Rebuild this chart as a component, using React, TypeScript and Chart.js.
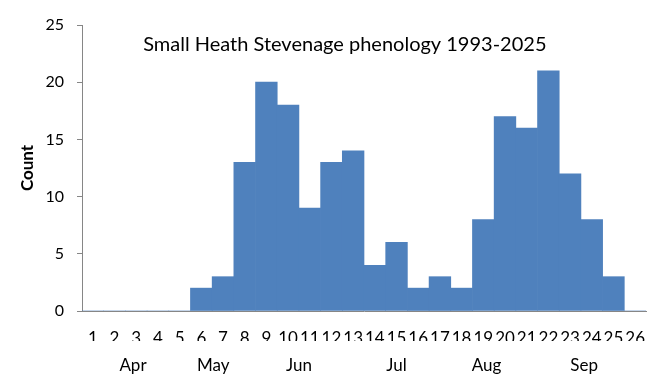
import React, { useEffect, useRef } from "react";
import { Chart, registerables } from "chart.js";

Chart.register(...registerables);

const weeks = ["1","2","3","4","5","6","7","8","9","10","11","12","13","14","15","16","17","18","19","20","21","22","23","24","25","26"];
const counts = [0,0,0,0,0,2,3,13,20,18,9,13,14,4,6,2,3,2,8,17,16,21,12,8,3,0];
const monthLabels = ["Apr","May","Jun","Jul","Aug","Sep"];
const monthWeeks = [2.85, 6.55, 10.5, 15.0, 19.15, 23.65];
const yMax = 25;
const yStep = 5;
const titleText = "Small Heath Stevenage phenology 1993-2025";
const yTitle = "Count";

const FONT = "Lato";
const AXIS = "#868686";
const BAR = "#4F81BD";

const innerTitle = {
  id: "innerTitle",
  afterDraw(chart: any) {
    const { ctx, chartArea } = chart;
    ctx.save();
    ctx.font = `20px ${FONT}`;
    ctx.fillStyle = "#000";
    ctx.textAlign = "center";
    ctx.textBaseline = "middle";
    const x = chartArea.left + (chartArea.right - chartArea.left) * 0.466;
    ctx.fillText(titleText, x, chartArea.top + 20);
    ctx.restore();
  },
};

export default function App() {
  const ref = useRef<HTMLCanvasElement | null>(null);
  useEffect(() => {
    document.body.style.margin = "0";
    const canvas = ref.current;
    if (!canvas) return;
    const chart = new Chart(canvas, {
      type: "bar",
      data: {
        labels: weeks,
        datasets: [
          {
            data: counts,
            backgroundColor: BAR,
            borderWidth: 0,
            barPercentage: 1,
            categoryPercentage: 1,
            xAxisID: "x",
            yAxisID: "y",
          },
        ],
      },
      options: {
        responsive: false,
        animation: false,
        devicePixelRatio: 1,
        layout: { padding: { top: 25, right: 11, left: 0, bottom: 0 } },
        plugins: {
          legend: { display: false },
          tooltip: { enabled: false },
          title: { display: false },
        },
        scales: {
          x: {
            type: "category",
            position: "bottom",
            offset: true,
            grid: { display: false, drawTicks: true, tickLength: 17 },
            border: { display: true, color: AXIS, width: 1 },
            ticks: {
              autoSkip: false,
              maxRotation: 0,
              minRotation: 0,
              padding: 0,
              color: "#000",
              font: { family: FONT, size: 17 },
            },
            afterFit: (s: any) => {
              s.height = 30;
              s.paddingLeft = 0;
              s.paddingRight = 0;
            },
          },
          months: {
            type: "linear",
            position: "bottom",
            offset: false,
            min: 0.5,
            max: 26.5,
            grid: { display: false, drawTicks: true, tickLength: 14, offset: false },
            border: { display: false },
            afterBuildTicks: (s: any) => {
              s.ticks = monthWeeks.map((v) => ({ value: v }));
            },
            ticks: {
              autoSkip: false,
              maxRotation: 0,
              minRotation: 0,
              padding: 0,
              color: "#000",
              font: { family: FONT, size: 17 },
              callback: (_v: any, i: number) => monthLabels[i],
            },
            afterFit: (s: any) => {
              s.height = 40;
              s.paddingLeft = 0;
              s.paddingRight = 0;
            },
          },
          y: {
            min: 0,
            max: yMax,
            grid: {
              drawOnChartArea: false,
              drawTicks: true,
              tickLength: 5,
              color: AXIS,
            },
            border: { display: true, color: AXIS, width: 1 },
            ticks: {
              stepSize: yStep,
              padding: 13,
              color: "#000",
              font: { family: FONT, size: 16 },
            },
            title: {
              display: true,
              text: yTitle,
              color: "#000",
              font: { family: FONT, size: 17, weight: "bold" },
              padding: { top: 17, bottom: 0 },
            },
            afterFit: (s: any) => {
              s.width = 82;
            },
          },
        },
      },
      plugins: [innerTitle],
    });
    return () => chart.destroy();
  }, []);
  return (
    <div style={{ width: 657, height: 381, background: "#fff" }}>
      <canvas ref={ref} width={657} height={381} />
    </div>
  );
}
